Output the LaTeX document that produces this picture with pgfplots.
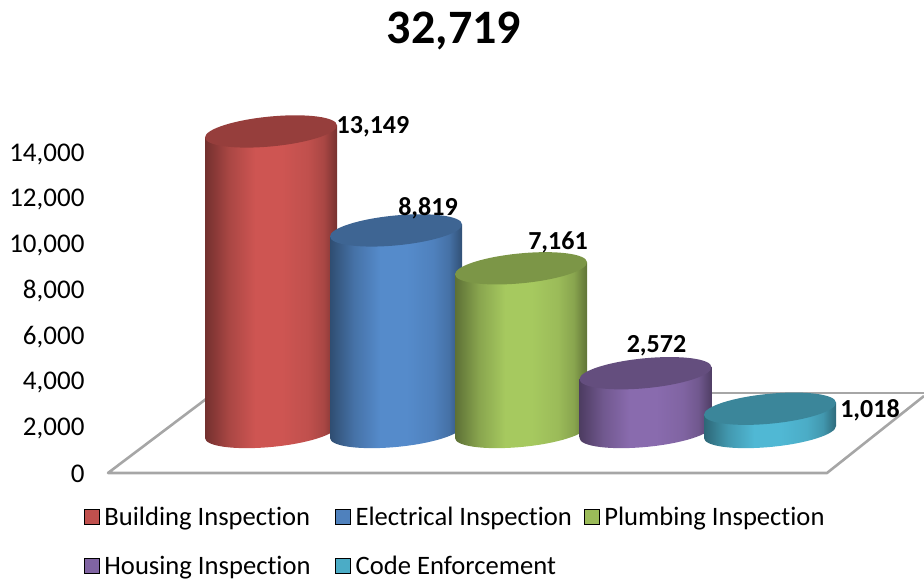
\documentclass[border=0pt]{standalone}
\usepackage{fontspec}
\setmainfont{Carlito}[Ligatures=NoCommon]
\usepackage{pgfplots}
\pgfplotsset{compat=1.18}
\pgfkeys{/pgf/number format/.cd,fixed,1000 sep={,},assume math mode=true}
\definecolor{cr}{HTML}{C0504D}
\definecolor{cb}{HTML}{4F81BD}
\definecolor{cg}{HTML}{9BBB59}
\definecolor{cp}{HTML}{8064A2}
\definecolor{ct}{HTML}{4BACC6}
\definecolor{lr}{HTML}{CE5552}
\definecolor{lb}{HTML}{558BCB}
\definecolor{lg}{HTML}{A6C95F}
\definecolor{lp}{HTML}{896BAE}
\definecolor{lt}{HTML}{50B8D4}
\definecolor{floorgray}{HTML}{A6A6A6}
\newcommand{\defcyl}[3]{%
  \pgfdeclarehorizontalshading{cyl#1}{100bp}{%
    color(0bp)=(#2!60!black);
    color(25bp)=(#2!60!black);
    color(34bp)=(#2!88!black);
    color(44bp)=(#3);
    color(54bp)=(#3);
    color(64bp)=(#2);
    color(70bp)=(#2!88!black);
    color(75bp)=(#2!62!black);
    color(100bp)=(#2!62!black)}%
  \pgfdeclareplotmark{base#1}{%
    \pgfpathellipse{\pgfpointorigin}{\pgfqpoint{66pt}{6pt}}{\pgfqpoint{0pt}{15pt}}%
    \pgfshadepath{cyl#1}{0}\pgfusepath{discard}}%
  \pgfdeclareplotmark{top#1}{%
    \pgfpathellipse{\pgfpointorigin}{\pgfqpoint{66pt}{6pt}}{\pgfqpoint{0pt}{15pt}}%
    \pgfusepathqfill}%
}
\defcyl{r}{cr}{lr}
\defcyl{b}{cb}{lb}
\defcyl{g}{cg}{lg}
\defcyl{p}{cp}{lp}
\defcyl{t}{ct}{lt}
\pgfplotsset{
  valuelabel/.style n args={2}{
    nodes near coords,
    nodes near coords style={anchor=center,font=\fontsize{26}{26}\selectfont\bfseries,text=black,
      xshift=#1pt,yshift=#2pt,inner sep=0pt},
  },
  swatch/.style={legend image code/.code={\fill[##1] (0pt,-7.5pt) rectangle (15pt,7.5pt);\path (18pt,0pt);}},
  cylaxis/.style={
    at={(100pt,148pt)},anchor=south west,scale only axis,width=824pt,height=320pt,
    xmin=100,xmax=924,ymin=0,ymax=14000,clip=false,hide axis},
}
\begin{document}
\begin{tikzpicture}[x=1pt,y=1pt]
\useasboundingbox (0,0) rectangle (924,580);
\node[font=\fontsize{48}{48}\selectfont\bfseries,inner sep=0pt] at (454,549) {32,719};
% value axis and floor
\begin{axis}[
  at={(100pt,109pt)},anchor=south west,scale only axis,width=824pt,height=320pt,
  xmin=100,xmax=924,ymin=0,ymax=14000,clip=false,
  hide x axis,axis y line*=left,y axis line style={draw=none},major tick style={draw=none},
  scaled y ticks=false,
  ytick={0,2000,4000,6000,8000,10000,12000,14000},
  yticklabel style={font=\fontsize{27}{27}\selectfont,text=black,xshift=-12pt,yshift=-3pt},
]
\addplot[floorgray,line width=2.6pt,line join=round] coordinates {(214,3412) (108,-87) (827,-87) (924,3281)};
\addplot[floorgray,line width=2.6pt] coordinates {(214,3412) (924,3412)};
\end{axis}
% Building
\begin{axis}[cylaxis]
\addplot[forget plot,only marks,mark=baser] coordinates {(271,0)};
\addplot[forget plot,shade,shading=cylr,draw=none] coordinates {(205,-262) (205,12887) (337,13411) (337,262)} --cycle;
\addplot[forget plot,only marks,mark=topr,mark options={fill=cr!78!black,draw=none},point meta=y,valuelabel={102}{5}] coordinates {(271,13149)};
\end{axis}
% Electrical
\begin{axis}[cylaxis]
\addplot[forget plot,only marks,mark=baseb] coordinates {(396,0)};
\addplot[forget plot,shade,shading=cylb,draw=none] coordinates {(330,-262) (330,8557) (462,9081) (462,262)} --cycle;
\addplot[forget plot,only marks,mark=topb,mark options={fill=cb!78!black,draw=none},point meta=y,valuelabel={32}{22}] coordinates {(396,8819)};
\end{axis}
% Plumbing
\begin{axis}[cylaxis]
\addplot[forget plot,only marks,mark=baseg] coordinates {(521,0)};
\addplot[forget plot,shade,shading=cylg,draw=none] coordinates {(455,-262) (455,6899) (587,7423) (587,262)} --cycle;
\addplot[forget plot,only marks,mark=topg,mark options={fill=cg!80!black,draw=none},point meta=y,valuelabel={37}{26}] coordinates {(521,7161)};
\end{axis}
% Housing
\begin{axis}[cylaxis]
\addplot[forget plot,only marks,mark=basep] coordinates {(645.5,0)};
\addplot[forget plot,shade,shading=cylp,draw=none] coordinates {(579.5,-262) (579.5,2310) (711.5,2834) (711.5,262)} --cycle;
\addplot[forget plot,only marks,mark=topp,mark options={fill=cp!78!black,draw=none},point meta=y,valuelabel={11}{27}] coordinates {(645.5,2572)};
\end{axis}
% Code, and the legend
\begin{axis}[cylaxis,
  legend columns=3,
  legend cell align=left,
  legend style={at={(-0.0194,-0.228)},anchor=north west,draw=none,fill=none,inner sep=0pt,outer sep=0pt,
    font=\fontsize{26.6}{26.6}\selectfont,row sep=25pt,
    /tikz/every even column/.append style={column sep=10pt}},
]
\addplot[forget plot,only marks,mark=baset] coordinates {(770,0)};
\addplot[forget plot,shade,shading=cylt,draw=none] coordinates {(704,-262) (704,756) (836,1280) (836,262)} --cycle;
\addplot[forget plot,only marks,mark=topt,mark options={fill=ct!78!black,draw=none},point meta=y,valuelabel={100}{-2}] coordinates {(770,1018)};
\addlegendimage{swatch,fill=cr}\addlegendentry{Building Inspection\rule{13pt}{0pt}}
\addlegendimage{swatch,fill=cb}\addlegendentry{Electrical Inspection}
\addlegendimage{swatch,fill=cg}\addlegendentry{Plumbing Inspection}
\addlegendimage{swatch,fill=cp}\addlegendentry{Housing Inspection}
\addlegendimage{swatch,fill=ct}\addlegendentry{Code Enforcement}
\end{axis}
\end{tikzpicture}
\end{document}
